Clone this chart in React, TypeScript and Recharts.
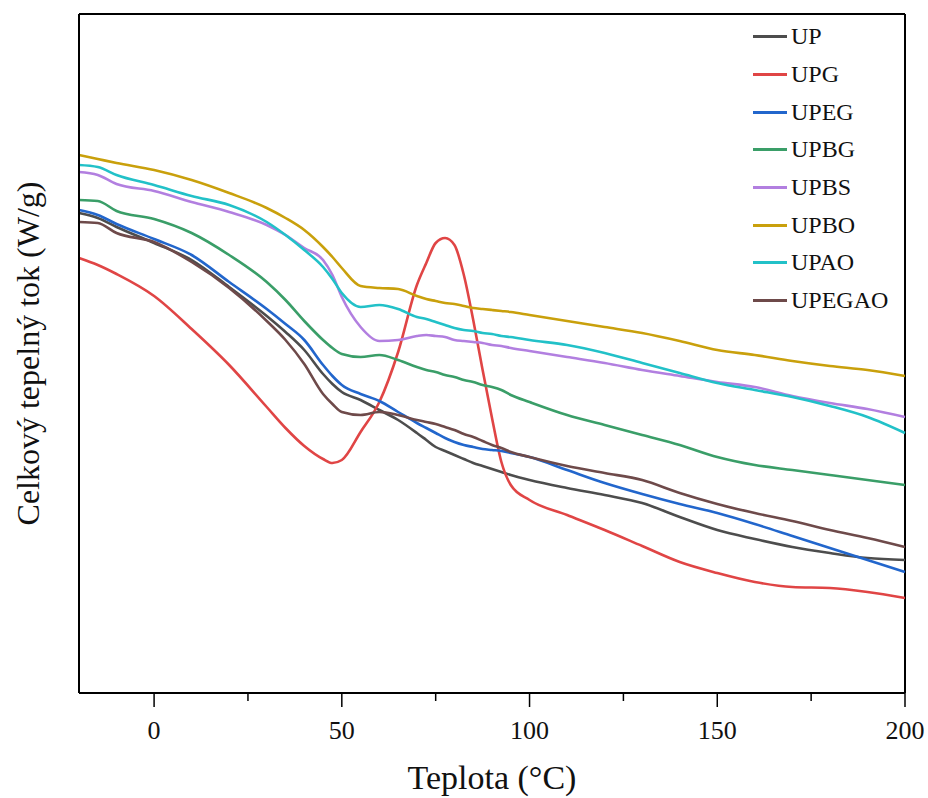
import { Label, Legend, Line, LineChart, ReferenceLine, XAxis, YAxis } from 'recharts';

const temps = [
  -20, -15, -10, 0, 10, 20, 30, 35, 40, 45, 47.5, 50, 55, 60, 65, 70, 72.5, 75, 77.5, 80, 82.5, 85,
  87.5, 90, 92.5, 95, 100, 110, 120, 130, 140, 150, 160, 170, 180, 190, 200
];

const up = [
  4.8, 4.75, 4.66, 4.5, 4.33, 4.06, 3.77, 3.61, 3.43, 3.19, 3.09, 3.01, 2.93, 2.83, 2.73, 2.6, 2.53,
  2.46, 2.42, 2.38, 2.34, 2.3, 2.27, 2.24, 2.21, 2.18, 2.13, 2.05, 1.98, 1.9, 1.76, 1.63, 1.54, 1.46,
  1.4, 1.35, 1.33
];
const upg = [
  4.35, 4.28, 4.19, 3.97, 3.64, 3.28, 2.86, 2.65, 2.47, 2.34, 2.3, 2.33, 2.61, 2.91, 3.41, 4.08,
  4.3, 4.5, 4.55, 4.48, 4.18, 3.73, 3.23, 2.75, 2.31, 2.08, 1.93, 1.78, 1.63, 1.47, 1.31, 1.2, 1.11,
  1.06, 1.05, 1.01, 0.95
];
const upeg = [
  4.83, 4.78, 4.69, 4.54, 4.38, 4.11, 3.84, 3.69, 3.53, 3.28, 3.17, 3.08, 2.99, 2.92, 2.81, 2.7,
  2.65, 2.6, 2.55, 2.51, 2.48, 2.46, 2.44, 2.43, 2.42, 2.4, 2.36, 2.23, 2.1, 1.99, 1.89, 1.8, 1.69,
  1.57, 1.45, 1.33, 1.21
];
const upbg = [
  4.93, 4.92, 4.82, 4.74, 4.6, 4.38, 4.11, 3.93, 3.72, 3.53, 3.45, 3.39, 3.36, 3.38, 3.33, 3.26,
  3.23, 3.21, 3.18, 3.16, 3.13, 3.11, 3.08, 3.06, 3.03, 2.98, 2.91, 2.78, 2.68, 2.58, 2.48, 2.36,
  2.28, 2.23, 2.18, 2.13, 2.08
];
const upbs = [
  5.21, 5.18, 5.09, 5.02, 4.91, 4.81, 4.68, 4.58, 4.45, 4.33, 4.18, 3.96, 3.66, 3.52, 3.53, 3.57,
  3.58, 3.57, 3.56, 3.53, 3.52, 3.51, 3.5, 3.48, 3.47, 3.45, 3.42, 3.36, 3.3, 3.23, 3.17, 3.11, 3.06,
  2.97, 2.9, 2.84, 2.76
];
const upbo = [
  5.38, 5.34, 5.3, 5.23, 5.13, 5.0, 4.85, 4.75, 4.63, 4.46, 4.36, 4.25, 4.07, 4.05, 4.04, 3.97,
  3.94, 3.92, 3.9, 3.89, 3.87, 3.85, 3.84, 3.83, 3.82, 3.81, 3.78, 3.72, 3.66, 3.6, 3.52, 3.43, 3.38,
  3.32, 3.27, 3.23, 3.17
];
const upao = [
  5.28, 5.26, 5.18, 5.08, 4.97, 4.88, 4.71, 4.58, 4.43, 4.26, 4.14, 4.0, 3.86, 3.88, 3.84, 3.76,
  3.74, 3.71, 3.68, 3.65, 3.63, 3.62, 3.6, 3.59, 3.57, 3.56, 3.53, 3.48, 3.4, 3.3, 3.2, 3.1, 3.03,
  2.96, 2.87, 2.76, 2.6
];
const upegao = [
  4.71, 4.7, 4.6, 4.51, 4.31, 4.05, 3.72, 3.53, 3.29, 2.99, 2.89, 2.81, 2.78, 2.81, 2.78, 2.73,
  2.71, 2.69, 2.66, 2.63, 2.59, 2.56, 2.52, 2.48, 2.45, 2.41, 2.36, 2.27, 2.2, 2.13, 2.0, 1.89, 1.8,
  1.72, 1.63, 1.55, 1.46
];

const xTicks = [0, 25, 50, 75, 100, 125, 150, 175, 200];

const series = [
  { key: 'UP', values: up, color: '#4d4d4d' },
  { key: 'UPG', values: upg, color: '#e04545' },
  { key: 'UPEG', values: upeg, color: '#2266cc' },
  { key: 'UPBG', values: upbg, color: '#3a9e68' },
  { key: 'UPBS', values: upbs, color: '#b27fe0' },
  { key: 'UPBO', values: upbo, color: '#c9a00c' },
  { key: 'UPAO', values: upao, color: '#22c1c8' },
  { key: 'UPEGAO', values: upegao, color: '#6e4a4a' }
];

const data = temps.map((t, i) => {
  const row: Record<string, number> = { t };
  series.forEach((s) => {
    row[s.key] = s.values[i];
  });
  return row;
});

const FONT = '"Liberation Serif", "Times New Roman", serif';

function XTick({ x, y, payload }: any) {
  const major = payload.value % 50 === 0;
  return (
    <g>
      <line x1={x} x2={x} y1={y} y2={y + (major ? 14 : 8)} stroke="#000" strokeWidth={1.5} />
      {major && (
        <text x={x} y={y + 46} textAnchor="middle" fontSize={26} fontFamily={FONT} fill="#111">
          {payload.value}
        </text>
      )}
    </g>
  );
}

function LegendBox() {
  return (
    <div style={{ fontFamily: FONT, fontSize: 24, color: '#111' }}>
      {series.map((s) => (
        <div key={s.key} style={{ display: 'flex', alignItems: 'center', height: 37.7 }}>
          <span style={{ display: 'inline-block', width: 34, height: 3, background: s.color, marginRight: 4 }} />
          <span>{s.key}</span>
        </div>
      ))}
    </div>
  );
}

export default function App() {
  return (
    <div style={{ position: 'absolute', left: 0, top: 0 }}>
      <LineChart width={928} height={798} data={data} margin={{ top: 14, right: 23, left: 0, bottom: 0 }}>
        <XAxis
          dataKey="t"
          type="number"
          domain={[-20, 200]}
          ticks={xTicks}
          interval={0}
          tickSize={0}
          tickMargin={0}
          tick={<XTick />}
          height={105}
          axisLine={{ stroke: '#000', strokeWidth: 2 }}
          tickLine={false}
        >
          <Label
            value="Teplota (°C)"
            position="insideBottom"
            offset={9}
            style={{ fontFamily: FONT, fontSize: 34, fill: '#111' }}
          />
        </XAxis>
        <YAxis
          type="number"
          domain={[0, 6.79]}
          width={79}
          tick={false}
          tickLine={false}
          axisLine={{ stroke: '#000', strokeWidth: 2 }}
        >
          <Label
            value="Celkový tepelný tok (W/g)"
            angle={-90}
            position="insideLeft"
            offset={28}
            style={{ fontFamily: FONT, fontSize: 32, fill: '#111', textAnchor: 'middle' }}
          />
        </YAxis>
        <ReferenceLine y={6.79} stroke="#000" strokeWidth={2} />
        <ReferenceLine x={200} stroke="#000" strokeWidth={2} />
        <Legend
          layout="vertical"
          align="center"
          verticalAlign="middle"
          content={<LegendBox />}
          wrapperStyle={{ top: 18, left: 753, width: 'auto', height: 'auto' }}
        />
        {series.map((s) => (
          <Line
            key={s.key}
            dataKey={s.key}
            name={s.key}
            type="monotone"
            stroke={s.color}
            strokeWidth={2.6}
            dot={false}
            isAnimationActive={false}
          />
        ))}
      </LineChart>
    </div>
  );
}
